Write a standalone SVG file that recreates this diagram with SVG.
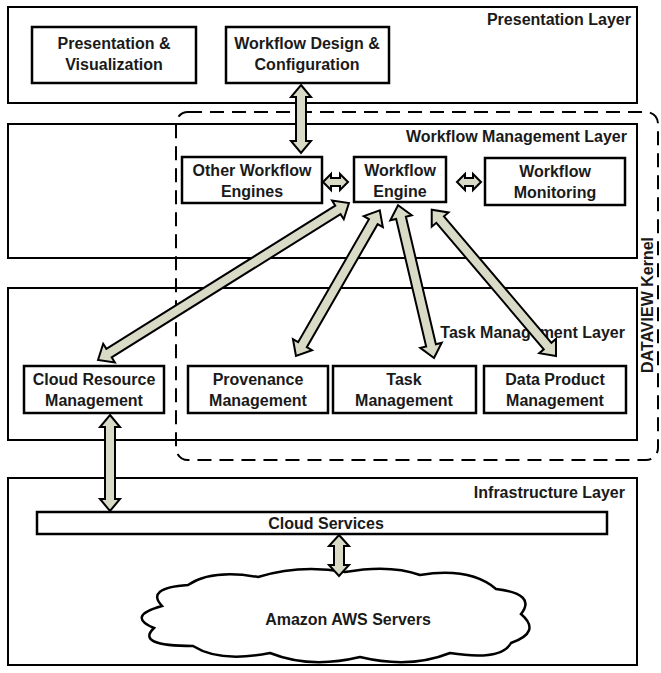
<svg xmlns="http://www.w3.org/2000/svg" width="661" height="673" viewBox="0 0 661 673">
<style>
.layer{fill:none;stroke:#000;stroke-width:2}
.box{fill:#fff;stroke:#000;stroke-width:2.5}
.t{font-family:"Liberation Sans",Arial,sans-serif;font-weight:bold;font-size:16px;fill:#1a1a1a}
.c{text-anchor:middle}
.r{text-anchor:end}
.arr{fill:#d9dbc6;stroke:#000;stroke-width:2;stroke-linejoin:miter}
.kernel{fill:none;stroke:#000;stroke-width:2;stroke-dasharray:14 8}
</style>
<rect width="661" height="673" fill="#fff"/>
<g id="presentation-layer">
<rect class="layer" x="8" y="7" width="629" height="96"/>
<text class="t r" x="631" y="25">Presentation Layer</text>
</g>
<g id="presentation-visualization">
<rect class="box" x="32" y="27" width="164" height="56"/>
<text class="t c" x="114" y="49">Presentation &amp;</text>
<text class="t c" x="114" y="70">Visualization</text>
</g>
<g id="workflow-design">
<rect class="box" x="226" y="27" width="163" height="56"/>
<text class="t c" x="307" y="49">Workflow Design &amp;</text>
<text class="t c" x="307" y="70">Configuration</text>
</g>
<g id="workflow-management-layer">
<rect class="layer" x="8" y="124" width="629" height="134"/>
<text class="t r" x="627" y="142">Workflow Management Layer</text>
</g>
<g id="task-management-layer">
<rect class="layer" x="8" y="288" width="629" height="152"/>
<text class="t r" x="625" y="338">Task Management Layer</text>
</g>
<g id="dataview-kernel">
<rect class="kernel" x="176" y="112" width="482" height="348" rx="12" ry="12"/>
<text class="t c" transform="translate(653,305) rotate(-90)">DATAVIEW Kernel</text>
</g>
<g id="other-workflow-engines">
<rect class="box" x="182" y="157" width="140" height="46"/>
<text class="t c" x="252" y="176">Other Workflow</text>
<text class="t c" x="252" y="197">Engines</text>
</g>
<g id="workflow-engine">
<rect class="box" x="354" y="157" width="92" height="45"/>
<text class="t c" x="400" y="176">Workflow</text>
<text class="t c" x="400" y="197">Engine</text>
</g>
<g id="workflow-monitoring">
<rect class="box" x="485" y="158" width="140" height="47"/>
<text class="t c" x="555" y="177">Workflow</text>
<text class="t c" x="555" y="198">Monitoring</text>
</g>
<g id="cloud-resource-management">
<rect class="box" x="24" y="366" width="140" height="47"/>
<text class="t c" x="94" y="385">Cloud Resource</text>
<text class="t c" x="94" y="406">Management</text>
</g>
<g id="provenance-management">
<rect class="box" x="188" y="366" width="140" height="47"/>
<text class="t c" x="258" y="385">Provenance</text>
<text class="t c" x="258" y="406">Management</text>
</g>
<g id="task-management">
<rect class="box" x="333" y="366" width="143" height="47"/>
<text class="t c" x="404" y="385">Task</text>
<text class="t c" x="404" y="406">Management</text>
</g>
<g id="data-product-management">
<rect class="box" x="484" y="366" width="142" height="47"/>
<text class="t c" x="555" y="385">Data Product</text>
<text class="t c" x="555" y="406">Management</text>
</g>
<g id="infrastructure-layer">
<rect class="layer" x="8" y="478" width="629" height="187"/>
<text class="t r" x="625" y="498">Infrastructure Layer</text>
</g>
<g id="cloud-services">
<rect class="box" x="37" y="512" width="570" height="22"/>
<text class="t c" x="326" y="529">Cloud Services</text>
</g>
<g id="amazon-aws-servers">
<path d="M162,606 Q145,588 188,585 Q212,569 258,577 Q300,564 345,572 Q390,564 420,575 Q470,567 496,589 Q537,594 521,614 Q542,632 511,643 Q501,661 450,653 Q410,669 360,657 Q310,669 270,653 Q220,663 193,646 Q135,646 154,628 Q126,616 162,606 Z" fill="#fff" stroke="#000" stroke-width="2.5"/>
<text class="t c" x="348" y="625">Amazon AWS Servers</text>
</g>
<g id="connectors">
<polygon class="arr" transform="translate(301,85) rotate(90)" points="0,0 12,-10 12,-5 56,-5 56,-10 68,0 56,10 56,5 12,5 12,10"/>
<polygon class="arr" transform="translate(323,182)" points="0,0 8,-8 8,-4 17,-4 17,-8 25,0 17,8 17,4 8,4 8,8"/>
<polygon class="arr" transform="translate(457,182)" points="0,0 8,-8 8,-4 16,-4 16,-8 24,0 16,8 16,4 8,4 8,8"/>
<polygon class="arr" transform="translate(98,360) rotate(-32.03)" points="0,0 13,-11 13,-5 283,-5 283,-11 296,0 283,11 283,5 13,5 13,11"/>
<polygon class="arr" transform="translate(296,356) rotate(-60.09)" points="0,0 13,-11 13,-5 155,-5 155,-11 168,0 155,11 155,5 13,5 13,11"/>
<polygon class="arr" transform="translate(434,358) rotate(-103.24)" points="0,0 13,-11 13,-5 144,-5 144,-11 157,0 144,11 144,5 13,5 13,11"/>
<polygon class="arr" transform="translate(556,356) rotate(-130.34)" points="0,0 13,-11 13,-5 179,-5 179,-11 192,0 179,11 179,5 13,5 13,11"/>
<polygon class="arr" transform="translate(110,415) rotate(90)" points="0,0 12,-10 12,-5 84,-5 84,-10 96,0 84,10 84,5 12,5 12,10"/>
<polygon class="arr" transform="translate(339,535) rotate(90)" points="0,0 11,-10 11,-5 30,-5 30,-10 41,0 30,10 30,5 11,5 11,10"/>
</g>
</svg>
